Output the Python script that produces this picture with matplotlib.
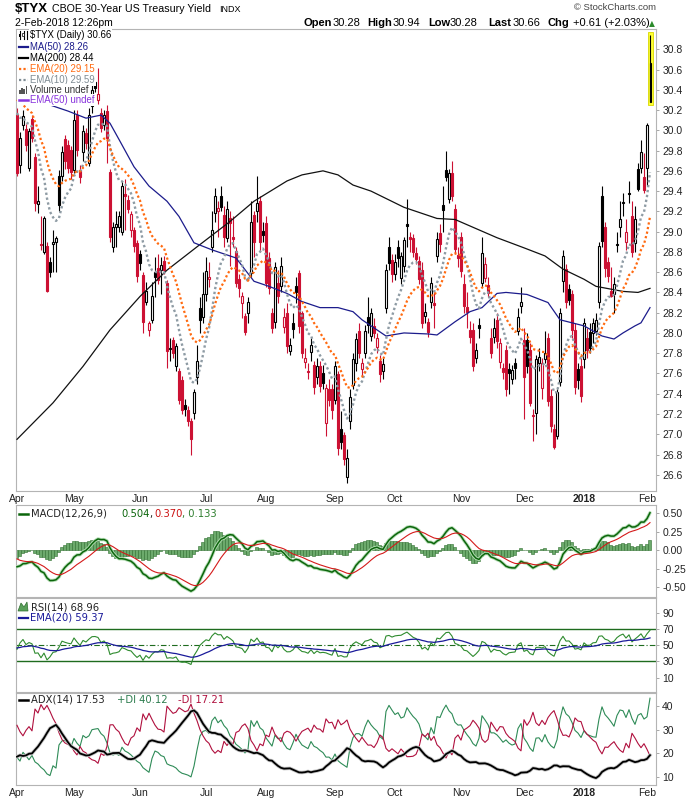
import numpy as np
import pandas as pd
import matplotlib
matplotlib.use("Agg")
import matplotlib.pyplot as plt
from matplotlib.lines import Line2D
from matplotlib.patches import Rectangle, Polygon

plt.rcParams['font.family'] = ['Liberation Sans', 'DejaVu Sans']

# ---------------- data ----------------
OPEN = [30.15,29.66,30.05,30.01,29.63,30.11,29.74,29.27,28.88,28.80,
 28.86,28.70,28.88,28.90,29.55,29.55,29.91,29.86,29.81,29.61,
 30.15,29.61,29.79,29.97,29.68,30.24,30.48,30.30,30.17,30.05,
 30.19,29.59,28.85,29.05,29.05,29.00,29.37,29.31,29.02,29.02,
 28.89,28.78,28.57,28.31,28.03,28.13,28.60,28.64,28.62,28.71,
 28.49,27.84,27.93,27.67,27.62,27.54,27.29,27.24,27.13,27.21,
 27.57,28.25,28.16,28.38,28.53,28.85,29.18,29.20,29.35,29.16,
 28.94,29.13,28.95,28.81,28.53,28.30,28.17,28.20,28.59,29.16,
 29.20,29.30,29.01,29.09,28.74,28.20,28.11,28.49,28.46,28.06,
 28.20,27.82,28.10,28.46,28.59,28.20,27.71,27.62,27.81,27.68,
 27.57,27.67,27.60,27.11,27.45,27.45,27.34,27.59,27.05,26.99,
 26.58,27.13,27.49,27.70,28.02,27.64,27.80,28.16,27.97,28.07,
 27.86,27.72,27.62,28.25,28.85,28.72,28.58,28.85,28.54,28.66,
 29.07,28.95,28.94,28.79,28.71,28.62,28.17,28.11,28.31,28.29,
 28.76,28.99,29.26,29.61,29.32,29.58,29.22,28.77,28.95,28.48,
 28.26,28.03,28.03,27.75,28.08,28.49,28.54,28.47,27.95,27.96,
 28.13,27.71,27.65,27.83,27.64,27.55,27.70,28.02,28.27,27.93,
 27.93,27.83,27.19,27.21,27.70,27.46,27.74,27.95,27.38,27.05,
 26.98,27.52,28.51,28.63,28.43,28.38,28.03,27.64,27.67,27.74,
 27.95,28.01,28.00,28.02,28.31,29.35,29.05,28.70,28.41,28.38,
 28.88,29.05,29.29,28.90,29.38,29.15,28.89,29.62,29.63,29.54,
 29.63,30.28]
HIGH = [30.22,29.98,30.20,30.06,30.02,30.15,29.78,29.45,29.15,29.15,
 28.90,28.75,29.02,28.96,29.61,29.85,29.95,29.90,29.85,30.20,
 30.20,29.66,30.05,30.02,30.22,30.45,30.50,30.62,30.22,30.20,
 30.25,29.62,29.10,29.20,29.20,29.50,29.52,29.36,29.20,29.05,
 28.92,28.82,28.60,28.50,28.12,28.50,28.75,28.78,28.75,28.76,
 28.52,27.95,27.96,27.90,27.65,27.58,27.35,27.28,27.16,27.45,
 27.88,28.35,28.60,28.75,28.70,29.20,29.43,29.30,29.45,29.25,
 29.30,29.20,29.15,28.85,28.58,28.40,28.20,28.35,29.30,29.20,
 29.55,29.35,29.10,29.15,28.80,28.25,28.70,28.62,28.75,28.25,
 28.30,27.95,28.20,28.55,28.62,28.22,27.85,27.70,27.95,27.72,
 27.75,27.72,27.68,27.50,27.55,27.50,27.72,27.62,27.23,27.02,
 26.85,27.45,27.80,28.00,28.10,27.75,28.08,28.35,28.25,28.15,
 28.00,27.78,27.75,28.68,28.95,28.78,28.78,28.92,28.80,28.95,
 29.32,29.00,28.98,28.85,28.76,28.70,28.30,28.15,28.55,28.40,
 29.00,29.08,29.45,29.80,29.62,29.70,29.27,28.85,29.00,28.58,
 28.40,28.12,28.10,27.90,28.15,28.95,28.75,28.55,28.05,28.15,
 28.20,27.95,27.70,27.88,27.70,27.68,27.75,28.25,28.45,28.05,
 28.00,27.90,27.25,27.78,27.85,27.75,28.02,28.00,27.45,27.10,
 27.45,28.25,28.82,28.68,28.48,28.42,28.10,27.70,27.75,28.15,
 28.05,28.10,28.15,28.20,28.90,29.45,29.10,28.75,28.65,28.55,
 29.00,29.30,29.38,29.12,29.50,29.30,29.25,29.68,29.90,29.78,
 30.07,30.94]
LOW = [29.55,29.58,30.00,29.80,29.60,29.88,29.20,29.18,28.82,28.78,
 28.40,28.55,28.60,28.60,29.20,29.50,29.62,29.58,29.52,29.58,
 29.75,29.48,29.70,29.82,29.65,30.17,30.38,30.26,29.98,30.00,
 29.68,28.90,28.80,28.85,29.00,28.97,29.02,29.18,28.95,28.80,
 28.50,28.62,28.00,28.28,27.97,28.10,28.35,28.48,28.38,28.58,
 27.65,27.72,27.75,27.62,27.30,27.20,27.18,27.08,26.80,27.15,
 27.50,28.00,28.10,28.32,28.45,28.80,29.10,28.95,29.20,28.85,
 28.90,28.66,28.85,28.45,28.35,28.15,27.98,28.10,28.55,28.75,
 29.10,28.80,28.90,28.45,28.38,28.00,28.05,28.30,28.40,28.00,
 27.80,27.78,27.95,28.30,28.00,27.75,27.65,27.55,27.72,27.40,
 27.50,27.42,27.45,26.98,27.28,27.15,27.30,26.80,26.85,26.70,
 26.52,27.05,27.45,27.62,27.75,27.58,27.75,28.00,27.92,27.95,
 27.80,27.52,27.55,28.20,28.62,28.50,28.52,28.65,28.48,28.60,
 28.85,28.80,28.75,28.68,28.48,28.05,28.10,27.96,28.25,28.05,
 28.70,28.80,29.00,29.50,29.28,29.30,28.78,28.65,28.55,28.20,
 28.05,27.90,27.62,27.70,27.95,28.45,28.50,28.35,27.75,27.90,
 27.85,27.65,27.55,27.38,27.40,27.50,27.55,27.98,28.20,27.15,
 27.60,27.28,26.93,27.00,27.62,27.35,27.70,27.28,27.02,26.85,
 26.95,27.48,28.40,28.25,28.28,27.95,27.40,27.45,27.32,27.65,
 27.75,27.80,27.90,27.98,28.25,28.85,28.55,28.50,28.35,28.20,
 28.80,28.95,29.15,28.82,29.28,28.75,28.80,29.40,29.58,29.38,
 29.45,30.28]
CLOSE = [29.58,29.92,30.14,29.86,29.99,29.92,29.28,29.30,28.87,29.13,
 28.41,28.60,28.90,28.94,29.26,29.79,29.70,29.63,29.59,30.10,
 29.81,29.54,29.99,29.87,30.15,30.40,30.42,30.36,30.02,30.15,
 29.92,28.95,29.05,29.08,29.15,29.45,29.35,29.22,29.17,28.86,
 28.56,28.69,28.11,28.41,28.10,28.36,28.55,28.52,28.67,28.62,
 27.82,27.85,27.80,27.87,27.34,27.24,27.25,27.13,26.95,27.42,
 27.72,28.13,28.38,28.61,28.55,29.02,29.35,29.23,29.24,28.95,
 29.22,29.09,28.93,28.49,28.44,28.36,28.01,28.31,29.10,28.90,
 29.28,28.90,28.97,28.49,28.44,28.05,28.65,28.36,28.66,28.16,
 27.87,27.88,28.04,28.40,28.07,27.80,27.75,27.61,27.88,27.47,
 27.67,27.48,27.51,27.46,27.34,27.24,27.67,26.86,26.92,26.76,
 26.77,27.37,27.74,27.94,27.80,27.70,28.02,28.08,28.20,28.00,
 27.95,27.59,27.69,28.62,28.69,28.58,28.70,28.74,28.76,28.92,
 29.06,28.93,28.80,28.73,28.53,28.10,28.21,28.01,28.49,28.28,
 28.93,28.88,29.21,29.54,29.58,29.35,28.83,28.74,28.61,28.27,
 28.21,27.96,27.67,27.83,28.05,28.79,28.68,28.39,27.80,28.05,
 27.92,27.90,27.61,27.45,27.60,27.63,27.65,28.16,28.31,27.57,
 27.67,27.31,27.18,27.74,27.76,27.70,27.80,27.33,27.08,26.87,
 27.42,28.20,28.76,28.31,28.33,28.03,27.47,27.54,27.38,28.10,
 27.83,27.85,28.10,28.13,28.86,28.91,28.64,28.56,28.36,28.48,
 28.87,29.12,29.28,29.00,29.37,28.80,29.12,29.42,29.79,29.41,
 30.05,30.66]

MONTH_IDX = [0, 19, 41, 63, 83, 106, 126, 148, 169, 189, 210]
MONTH_LBL = ['Apr', 'May', 'Jun', 'Jul', 'Aug', 'Sep', 'Oct', 'Nov', 'Dec', '2018', 'Feb']

MA200_IDX = [0,12,22,31,41,50,60,71,79,90,95,102,107,112,118,129,140,146,160,169,176,182,189,193,202,207,211]
MA200_VAL = [26.95,27.31,27.67,28.03,28.36,28.62,28.85,29.10,29.30,29.50,29.56,29.60,29.56,29.46,29.40,29.24,
             29.13,29.12,28.94,28.84,28.76,28.63,28.53,28.46,28.41,28.40,28.44]
MA50_IDX = [9,17,23,28,31,34,39,44,50,54,59,65,73,79,84,90,95,101,107,112,115,120,123,129,137,140,146,151,155,
            160,163,170,177,181,189,195,199,202,206,208,211]
MA50_VAL = [30.27,30.19,30.12,30.15,30.07,29.91,29.64,29.45,29.30,29.15,28.89,28.82,28.74,28.51,28.46,28.39,28.31,
            28.25,28.25,28.21,28.13,28.03,27.97,28.00,27.99,27.98,28.11,28.21,28.25,28.39,28.40,28.38,28.30,28.13,
            28.07,27.97,27.94,28.00,28.07,28.10,28.25]

# starting states of the indicators at the left edge
EMA20_START, EMA10_START = 30.38, 30.30
EMA12_START, EMA26_START, SIGNAL_START = 30.05, 30.25, -0.09
RSI_GAIN_START, RSI_LOSS_START, RSI_EMA_START = 0.070, 0.085, 47.0
ATR_START, PDM_START, MDM_START, ADX_START = 0.33, 0.060, 0.105, 18.5

PRICE_TICKS = [26.6, 26.8, 27.0, 27.2, 27.4, 27.6, 27.8, 28.0, 28.2, 28.4, 28.6, 28.8,
               29.0, 29.2, 29.4, 29.6, 29.8, 30.0, 30.2, 30.4, 30.6, 30.8]

# ---------------- indicators ----------------
o = np.array(OPEN); h = np.array(HIGH); l = np.array(LOW); c = np.array(CLOSE)
n = len(c)
x = np.arange(n)

def ema(vals, span, start):
    s = pd.Series([start] + list(vals))
    return s.ewm(span=span, adjust=False).mean().values[1:]

ema20 = ema(c, 20, EMA20_START)
ema10 = ema(c, 10, EMA10_START)
macd = ema(c, 12, EMA12_START) - ema(c, 26, EMA26_START)
signal = ema(macd, 9, SIGNAL_START)
hist = macd - signal

ag, al = RSI_GAIN_START, RSI_LOSS_START
rsi = [100 - 100 / (1 + ag / al)]
for i in range(1, n):
    d = c[i] - c[i - 1]
    ag = (ag * 13 + max(d, 0)) / 14
    al = (al * 13 + max(-d, 0)) / 14
    rsi.append(100 - 100 / (1 + ag / al))
rsi = np.array(rsi)
rsi_ema = ema(rsi, 20, RSI_EMA_START)

atr, pdm, mdm, adx = ATR_START, PDM_START, MDM_START, ADX_START
pdi_l = [100 * pdm / atr]; mdi_l = [100 * mdm / atr]; adx_l = [adx]
for i in range(1, n):
    up = h[i] - h[i - 1]; dn = l[i - 1] - l[i]
    p = up if (up > dn and up > 0) else 0.0
    m = dn if (dn > up and dn > 0) else 0.0
    tr = max(h[i] - l[i], abs(h[i] - c[i - 1]), abs(l[i] - c[i - 1]))
    atr = (atr * 13 + tr) / 14
    pdm = (pdm * 13 + p) / 14
    mdm = (mdm * 13 + m) / 14
    pdi = 100 * pdm / atr; mdi = 100 * mdm / atr
    dx = 100 * abs(pdi - mdi) / (pdi + mdi)
    adx = (adx * 13 + dx) / 14
    pdi_l.append(pdi); mdi_l.append(mdi); adx_l.append(adx)

# ---------------- figure ----------------
W, H = 700, 800
fig = plt.figure(figsize=(7, 8), dpi=100)
fig.patch.set_facecolor('white')

def fx(px): return px / W
def fy(py): return 1 - py / H
def axes_px(x0, y0, x1, y1):
    return fig.add_axes([fx(x0), fy(y1), (x1 - x0) / W, (y1 - y0) / H])

XL, XR = 16, 656
XLIM = (-0.33, 213.0)
SPINE = '#b4b4b4'
RED = '#cc1133'
PANEL_FONT = ['DejaVu Sans']

def style(ax, ylim, ticks, labels):
    ax.set_xlim(*XLIM)
    ax.set_ylim(*ylim)
    for s in ax.spines.values():
        s.set_color(SPINE); s.set_linewidth(0.8)
    ax.yaxis.tick_right()
    ax.set_yticks(ticks)
    ax.set_yticklabels(labels)
    ax.tick_params(axis='y', length=2.5, width=0.6, color='#999999', labelsize=7.5,
                   labelcolor='#222222', pad=2)
    ax.tick_params(axis='x', length=0, labelsize=7.5, labelcolor='#222222', pad=2.5)
    ax.set_xticks(MONTH_IDX)
    ax.set_xticklabels([])

ax = axes_px(XL, 29, XR, 491)
style(ax, (26.44, 31.0), PRICE_TICKS, ['%.1f' % t for t in PRICE_TICKS])
ax.set_xticklabels(MONTH_LBL)
ax.get_xticklabels()[9].set_fontweight('bold')

# candles
for i in range(n - 1):
    prev = c[i - 1] if i > 0 else o[0]
    col = RED if c[i] < prev else 'black'
    filled = c[i] < o[i]
    lo = min(l[i], o[i], c[i]); hi = max(h[i], o[i], c[i])
    ax.vlines(i, lo, hi, color=col, lw=0.8, zorder=2)
    b0 = min(o[i], c[i]); bh = max(abs(c[i] - o[i]), 0.012)
    ax.add_patch(Rectangle((i - 0.36, b0), 0.72, bh, facecolor=col if filled else 'white',
                           edgecolor=col, lw=0.8, zorder=3))
# last (current) bar highlighted in yellow
j = n - 1
ax.add_patch(Rectangle((j - 0.6, l[j] - 0.03), 1.5, h[j] - l[j] + 0.06, facecolor='#ffff33',
                       edgecolor='#d8d800', lw=0.6, zorder=2))
ax.vlines(j + 0.15, l[j], h[j], color='black', lw=0.8, zorder=3)
ax.add_patch(Rectangle((j + 0.15 - 0.3, o[j]), 0.6, c[j] - o[j], facecolor='#ffff33',
                       edgecolor='black', lw=0.8, zorder=4))

# overlays
ax.plot(MA200_IDX, MA200_VAL, color='#111111', lw=0.9, zorder=5)
ax.plot(MA50_IDX, MA50_VAL, color='#1c1c8c', lw=0.9, zorder=5)
ax.plot(x, ema10, color='#8e9ba4', lw=1.7, ls=(0, (1, 1.1)), zorder=5)
ax.plot(x, ema20, color='#ff6a10', lw=1.6, ls=(0, (1, 1.1)), zorder=5)

# ---- MACD panel ----
axm = axes_px(XL, 505, XR, 597)
style(axm, (-0.63, 0.61), [-0.5, -0.25, 0, 0.25, 0.5], ['-0.50', '-0.25', '0.00', '0.25', '0.50'])
axm.bar(x, hist, width=1.0, color='#6caa6c', edgecolor='#2f6f2f', lw=0.4, zorder=2)
axm.plot(x, macd, color='#b3dcb3', lw=2.4, zorder=3, solid_capstyle='round')
axm.plot(x, macd, color='#0b650b', lw=1.1, zorder=4)
axm.plot(x, signal, color='#d41a1a', lw=0.8, zorder=4)

# ---- RSI panel ----
axr = axes_px(XL, 598, XR, 692)
style(axr, (-8, 109), [10, 30, 50, 70, 90], ['10', '30', '50', '70', '90'])
axr.axhline(70, color='#1e6b1e', lw=1.0, zorder=2)
axr.axhline(30, color='#1e6b1e', lw=1.0, zorder=2)
axr.axhline(50, color='#1e6b1e', lw=0.8, ls=(0, (5, 2, 1, 2)), zorder=2)
axr.plot(x, rsi, color='#2e8b2e', lw=0.8, zorder=3)
axr.plot(x, rsi_ema, color='#1a1a9a', lw=0.9, zorder=4)

# ---- ADX panel ----
axa = axes_px(XL, 693, XR, 785)
style(axa, (6.5, 45.5), [10, 20, 30, 40], ['10', '20', '30', '40'])
axa.set_xticklabels(MONTH_LBL)
axa.get_xticklabels()[9].set_fontweight('bold')
axa.plot(x, pdi_l, color='#2e8b57', lw=0.8, zorder=3)
axa.plot(x, mdi_l, color='#b0103e', lw=0.8, zorder=3)
axa.plot(x, adx_l, color='#c4c4c4', lw=2.5, zorder=4)
axa.plot(x, adx_l, color='black', lw=1.3, zorder=5)

# ---------------- texts ----------------
def ftext(px, py, s, **kw):
    kw.setdefault('va', 'center'); kw.setdefault('ha', 'left')
    return fig.text(fx(px), fy(py), s, **kw)

def fline(x0, x1, y0, y1, **kw):
    fig.add_artist(Line2D([fx(x0), fx(x1)], [fy(y0), fy(y1)], transform=fig.transFigure, **kw))

ftext(15, 9, '$TYX', fontsize=9.5, fontweight='bold')
ftext(52, 9, 'CBOE 30-Year US Treasury Yield', fontsize=7.7)
ftext(219, 9.5, 'INDX', fontsize=6.5)
ftext(15, 23, '2-Feb-2018 12:26pm', fontsize=7.5)
ftext(656, 8, '\u00a9 StockCharts.com', fontsize=6.8, ha='right', color='#444444')
hdr = [(304, 'Open', True), (333, '30.28', False), (367, 'High', True), (393, '30.94', False),
       (428, 'Low', True), (450, '30.28', False), (488, 'Last', True), (513, '30.66', False),
       (548, 'Chg', True), (573, '+0.61 (+2.03%)', False)]
for px, s, b in hdr:
    ftext(px, 23, s, fontsize=8, fontweight='bold' if b else 'normal')
ftext(649, 23.5, '\u25b2', fontsize=5.5, color='#2a8a2a', family='DejaVu Sans')

# price legend
bb = dict(facecolor='white', edgecolor='none', pad=0.6)
LEG = [('$TYX (Daily) 30.66', 'black'), ('MA(50) 28.26', '#1c1c8c'), ('MA(200) 28.44', 'black'),
       ('EMA(20) 29.15', '#ff6a10'), ('EMA(10) 29.59', '#7f8c94'), ('Volume undef', '#333333'),
       ('EMA(50) undef', '#8833dd')]
LEG_Y = [35, 46.5, 58, 69, 80, 90, 100]
for (s, colr), yy in zip(LEG, LEG_Y):
    ftext(30, yy, s, fontsize=6.9, color=colr, bbox=bb, zorder=10)
fig.add_artist(Rectangle((fx(17), fy(105)), (29 - 17) / W, (105 - 29.5) / H, transform=fig.transFigure,
                         facecolor='white', edgecolor='none', zorder=9))
# legend symbols
for xx in (19.5, 23.5, 26.5):
    fline(xx, xx, 31, 39, color='black', lw=0.8, zorder=11)
fig.add_artist(Rectangle((fx(18.5), fy(37)), 2 / W, 3 / H, transform=fig.transFigure, facecolor='black', zorder=11))
fig.add_artist(Rectangle((fx(22.5), fy(36)), 2 / W, 3 / H, transform=fig.transFigure, facecolor='white',
                         edgecolor='black', lw=0.5, zorder=12))
fline(19, 28, 46.5, 46.5, color='#1c1c8c', lw=1.6, zorder=11)
fline(19, 28, 58, 58, color='black', lw=1.6, zorder=11)
fline(19, 28, 69, 69, color='#ff6a10', lw=1.6, ls=(0, (1, 1)), zorder=11)
fline(19, 28, 80, 80, color='#7f8c94', lw=1.6, ls=(0, (1, 1)), zorder=11)
for k, hh in enumerate([4, 6, 5, 7]):
    fig.add_artist(Rectangle((fx(19 + 2.2 * k), fy(93.5)), 1.6 / W, hh / H, transform=fig.transFigure,
                             facecolor='#555555', zorder=11))
fline(19, 28, 100, 100, color='#8833dd', lw=1.8, zorder=11)

# MACD legend
PF = dict(fontsize=7.2, family=PANEL_FONT)
fline(19, 28, 514, 514, color='#0b650b', lw=1.8)
ftext(31, 514, 'MACD(12,26,9)', color='#222222', **PF)
ftext(121, 514, '0.504', color='#0b650b', **PF)
ftext(149, 514, ',', color='#222222', **PF)
ftext(154, 514, '0.370', color='#cc1111', **PF)
ftext(182, 514, ', 0.133', color='#2f7f2f', **PF)

# RSI legend
fig.add_artist(Polygon([[fx(18), fy(611)], [fx(21), fy(603)], [fx(24), fy(607)], [fx(27), fy(602)],
                        [fx(28), fy(611)]], closed=True, transform=fig.transFigure,
                       facecolor='#5aa05a', edgecolor='#2e6e2e', lw=0.5))
ftext(31, 607, 'RSI(14) 68.96', color='#222222', **PF)
fline(19, 28, 618, 618, color='#1a1a9a', lw=1.6)
ftext(30, 618, 'EMA(20) 59.37', color='#1a1a9a', **PF)

# ADX legend
fline(19, 28, 700, 700, color='black', lw=1.8)
ftext(31, 700, 'ADX(14) 17.53', color='#222222', **PF)
ftext(117, 700, '+DI 40.12', color='#2e7d4f', **PF)
ftext(178, 700, '-DI 17.21', color='#b0103e', **PF)

fig.savefig('out.png', dpi=100)
